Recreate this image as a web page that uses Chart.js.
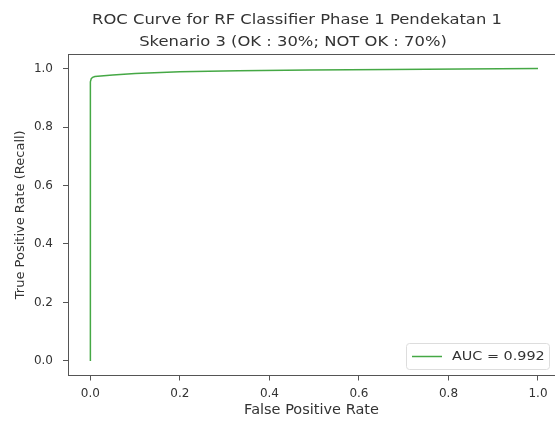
<!DOCTYPE html>
<html>
<head>
<meta charset="utf-8">
<script src="https://cdn.jsdelivr.net/npm/chart.js@4/dist/chart.umd.min.js"></script>
<style>
  html, body { margin: 0; padding: 0; background: #fff; }
  #wrap { width: 555px; height: 423px; position: relative; }
</style>
</head>
<body>
<div id="wrap"><canvas id="roc"></canvas></div>
<script>
// ── data ──
const fpr = [0, 0, 0.002, 0.005, 0.01, 0.05, 0.1, 0.2, 0.33, 0.49, 0.67, 0.83, 1.0];
const tpr = [0, 0.955, 0.966, 0.970, 0.973, 0.978, 0.983, 0.989, 0.993, 0.995, 0.997, 0.999, 1.0];
const aucLabel = "AUC = 0.992";
const xTicks = [0, 0.2, 0.4, 0.6, 0.8, 1.0];
const yTicks = [0, 0.2, 0.4, 0.6, 0.8, 1.0];
const titleLines = [
  "ROC Curve for RF Classifier Phase 1 Pendekatan 1",
  "Skenario 3 (OK : 30%; NOT OK : 70%)",
];

const FONT = "'DejaVu Sans', sans-serif";
const TEXT = "#333";
const AXIS = "#555";
const LINE = "#45a845";

// the reference image is a bit stretched sideways, so custom text gets a x-scale
function wideText(ctx, text, x, y, sx) {
  ctx.save();
  ctx.translate(x, y);
  ctx.scale(sx, 1);
  ctx.fillText(text, 0, 0);
  ctx.restore();
}

// frame top edge + title + inset legend (matplotlib-ish)
const decor = {
  id: "decor",
  afterDraw(chart) {
    const { ctx, chartArea: a } = chart;
    ctx.save();
    ctx.strokeStyle = AXIS;
    ctx.lineWidth = 1;
    ctx.beginPath();
    ctx.moveTo(a.left, Math.round(a.top) + 0.5);
    ctx.lineTo(a.right, Math.round(a.top) + 0.5);
    ctx.stroke();

    ctx.fillStyle = TEXT;
    ctx.font = `14px ${FONT}`;
    ctx.textAlign = "center";
    ctx.textBaseline = "middle";
    wideText(ctx, titleLines[0], 297, 20, 1.17);
    wideText(ctx, titleLines[1], 293, 42, 1.17);

    // legend box, lower right
    const ds = chart.data.datasets[0];
    const bx = 406, by = 343, bw = 143, bh = 26;
    ctx.fillStyle = "#fff";
    ctx.strokeStyle = "#ddd";
    ctx.beginPath();
    ctx.roundRect(bx + 0.5, by + 0.5, bw, bh, 3);
    ctx.fill();
    ctx.stroke();
    ctx.strokeStyle = ds.borderColor;
    ctx.lineWidth = 1.5;
    ctx.beginPath();
    ctx.moveTo(bx + 6, by + bh / 2 + 0.5);
    ctx.lineTo(bx + 36, by + bh / 2 + 0.5);
    ctx.stroke();
    ctx.fillStyle = TEXT;
    ctx.textAlign = "left";
    ctx.font = `12.5px ${FONT}`;
    wideText(ctx, ds.label, bx + 46, by + bh / 2 + 1, 1.15);
    ctx.restore();
  },
};

new Chart(document.getElementById("roc"), {
  type: "scatter",
  data: {
    datasets: [
      {
        label: aucLabel,
        data: fpr.map((x, i) => ({ x, y: tpr[i] })),
        showLine: true,
        borderColor: LINE,
        borderWidth: 1.5,
        pointRadius: 0,
        tension: 0,
      },
    ],
  },
  options: {
    responsive: true,
    maintainAspectRatio: false,
    animation: false,
    layout: { padding: { top: 54, left: 0, right: 0, bottom: 0 } },
    scales: {
      x: {
        type: "linear",
        min: -0.05,
        max: 1.038,
        afterBuildTicks: (s) => { s.ticks = xTicks.map((v) => ({ value: v })); },
        afterFit: (s) => { s.height = 47.5; },
        ticks: {
          color: TEXT,
          font: { family: FONT, size: 12 },
          padding: 6,
          callback: (v) => v.toFixed(1),
          maxRotation: 0,
        },
        grid: { drawOnChartArea: false, tickLength: 5, color: AXIS },
        border: { color: AXIS, width: 1 },
        title: {
          display: true,
          text: "False Positive Rate",
          color: TEXT,
          font: { family: FONT, size: 14.5 },
          padding: { top: 0, bottom: 4 },
        },
      },
      y: {
        type: "linear",
        min: -0.05,
        max: 1.05,
        afterBuildTicks: (s) => { s.ticks = yTicks.map((v) => ({ value: v })); },
        afterFit: (s) => { s.width = 68; },
        ticks: {
          color: TEXT,
          font: { family: FONT, size: 12 },
          padding: 10,
          callback: (v) => v.toFixed(1),
        },
        grid: { drawOnChartArea: false, tickLength: 5, color: AXIS },
        border: { color: AXIS, width: 1 },
        title: {
          display: true,
          text: "True Positive Rate (Recall)",
          color: TEXT,
          font: { family: FONT, size: 13 },
          padding: { top: 13, bottom: 0 },
        },
      },
    },
    plugins: {
      legend: { display: false },
      title: { display: false },
      tooltip: { enabled: false },
    },
  },
  plugins: [decor],
});
</script>
</body>
</html>
